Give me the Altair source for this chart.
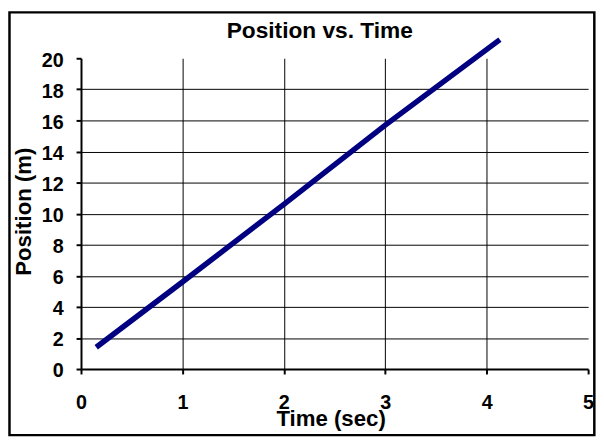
import altair as alt
import pandas as pd

# ---- data ----
time_sec = [0.15, 1.0, 2.0, 3.0, 4.13]
position_m = [1.4, 5.6, 10.6, 15.7, 21.2]
x_ticks = [0, 1, 2, 3, 4, 5]
y_ticks = [0, 2, 4, 6, 8, 10, 12, 14, 16, 18, 20]
chart_title = "Position vs. Time"
x_title = "Time (sec)"
y_title = "Position (m)"

df = pd.DataFrame({"t": time_sec, "p": position_m})

FONT = "Liberation Sans"
W, H = 514, 315

common_axis = dict(
    labelFont=FONT, labelFontSize=20, labelFontWeight="bold", labelColor="black",
    labelFlush=False, labelOverlap=False,
    tickSize=5, tickColor="black", tickWidth=2,
    domainColor="black", domainWidth=2,
    grid=True, gridColor="black", gridWidth=1,
    titleFont=FONT, titleFontSize=22.5, titleFontWeight="bold", titleColor="black",
)

x_axis = alt.Axis(
    values=x_ticks, format="d", title=x_title, labelPadding=19,
    gridOpacity={"condition": {"test": "datum.value >= 5 || datum.value <= 0", "value": 0}, "value": 1},
    titleX=253, titleY=57, titleBaseline="alphabetic", titleAlign="center",
    **common_axis,
)
y_axis = alt.Axis(
    values=y_ticks, format="d", title=y_title, labelPadding=13, labelOffset=2,
    gridOpacity={"condition": {"test": "datum.value >= 20 || datum.value <= 0", "value": 0}, "value": 1},
    titleX=-58, titleY=155, titleAngle=270, titleBaseline="middle", titleAlign="center",
    **common_axis,
)

line = alt.Chart(df).mark_line(
    color="#000080", strokeWidth=5.5, strokeCap="butt", clip=False
).encode(
    x=alt.X("t:Q", scale=alt.Scale(domain=[0, 5], nice=False, zero=False), axis=x_axis),
    y=alt.Y("p:Q", scale=alt.Scale(domain=[0, 20], nice=False, zero=False), axis=y_axis),
)

title_mark = alt.Chart(alt.Data(values=[{"label": chart_title}])).mark_text(
    font=FONT, fontSize=23, fontWeight="bold", color="black",
    align="center", baseline="alphabetic",
).encode(text="label:N", x=alt.value(242), y=alt.value(-21))

border = alt.Chart(alt.Data(values=[{"k": 1}])).mark_rect(
    filled=False, stroke="black", strokeWidth=2.5,
).encode(
    x=alt.value(-72.5), x2=alt.value(520.3), y=alt.value(-46.5), y2=alt.value(382),
)

chart = alt.layer(border, line, title_mark).properties(
    width=W, height=H,
    autosize=alt.AutoSizeParams(type="none"),
    padding={"left": 74, "top": 48, "right": 8, "bottom": 70},
    background="white",
).configure_view(stroke=None)

chart.save("out.html", embed_options={"renderer": "svg", "actions": False})
